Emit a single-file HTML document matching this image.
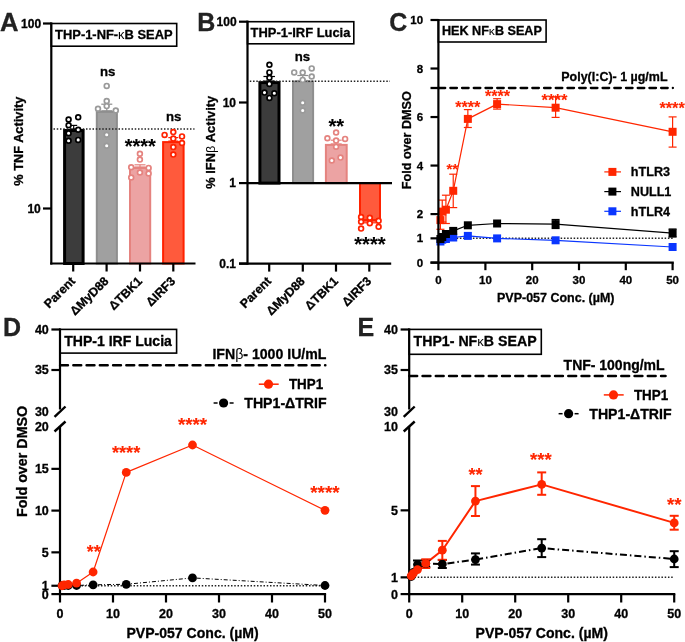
<!DOCTYPE html><html><head><meta charset="utf-8"><style>html,body{margin:0;padding:0;background:#fff;}svg{display:block;will-change:transform;}text{font-family:"Liberation Sans", sans-serif;stroke-width:0.3px;}</style></head><body>
<svg width="685" height="642" viewBox="0 0 685 642" font-family='"Liberation Sans", sans-serif'>
<rect x="0" y="0" width="685" height="642" fill="#fff"/>
<text x="-0.10" y="31.00" font-size="25.6" text-anchor="start" fill="#222" stroke="#222" font-weight="bold" >A</text>
<text x="41.10" y="27.90" font-size="12" text-anchor="end" fill="#000" stroke="#000" font-weight="bold" >100</text>
<text x="40.80" y="213.20" font-size="12" text-anchor="end" fill="#000" stroke="#000" font-weight="bold" >10</text>
<rect x="64.60" y="130.50" width="18.50" height="133.00" fill="#3c3c3c" stroke="#000" stroke-width="3.0"/>
<rect x="96.80" y="111.80" width="20.10" height="151.70" fill="#a0a0a0" stroke="#8e8e8e" stroke-width="2.0"/>
<rect x="130.00" y="168.00" width="20.20" height="95.50" fill="#eca3a3" stroke="#e5837f" stroke-width="2.0"/>
<rect x="163.10" y="142.10" width="20.50" height="121.40" fill="#ff5a3c" stroke="#ff2200" stroke-width="2.0"/>
<line x1="53.50" y1="129.00" x2="194.50" y2="129.00" stroke="#222" stroke-width="1.5" stroke-linecap="butt" stroke-dasharray="1.5 1.75"/>
<line x1="73.70" y1="125.40" x2="73.70" y2="129.00" stroke="#000" stroke-width="1.2" stroke-linecap="butt"/>
<line x1="70.20" y1="125.40" x2="77.20" y2="125.40" stroke="#000" stroke-width="1.2" stroke-linecap="butt"/>
<line x1="70.20" y1="129.00" x2="77.20" y2="129.00" stroke="#000" stroke-width="1.2" stroke-linecap="butt"/>
<line x1="106.80" y1="104.20" x2="106.80" y2="110.80" stroke="#8e8e8e" stroke-width="1.2" stroke-linecap="butt"/>
<line x1="101.30" y1="104.20" x2="112.30" y2="104.20" stroke="#8e8e8e" stroke-width="1.2" stroke-linecap="butt"/>
<line x1="101.30" y1="110.80" x2="112.30" y2="110.80" stroke="#8e8e8e" stroke-width="1.2" stroke-linecap="butt"/>
<line x1="140.00" y1="164.80" x2="140.00" y2="167.00" stroke="#e5837f" stroke-width="1.2" stroke-linecap="butt"/>
<line x1="134.50" y1="164.80" x2="145.50" y2="164.80" stroke="#e5837f" stroke-width="1.2" stroke-linecap="butt"/>
<line x1="134.50" y1="167.00" x2="145.50" y2="167.00" stroke="#e5837f" stroke-width="1.2" stroke-linecap="butt"/>
<line x1="173.30" y1="137.60" x2="173.30" y2="141.10" stroke="#ff2200" stroke-width="1.2" stroke-linecap="butt"/>
<line x1="168.30" y1="137.60" x2="178.30" y2="137.60" stroke="#ff2200" stroke-width="1.2" stroke-linecap="butt"/>
<line x1="168.30" y1="141.10" x2="178.30" y2="141.10" stroke="#ff2200" stroke-width="1.2" stroke-linecap="butt"/>
<circle cx="68.60" cy="119.50" r="2.4" fill="#fff" stroke="#000" stroke-width="1.7"/>
<circle cx="78.20" cy="117.30" r="2.4" fill="#fff" stroke="#000" stroke-width="1.7"/>
<circle cx="68.60" cy="125.30" r="2.4" fill="#fff" stroke="#000" stroke-width="1.7"/>
<circle cx="78.20" cy="129.70" r="2.4" fill="#fff" stroke="#000" stroke-width="1.7"/>
<circle cx="68.60" cy="133.20" r="2.4" fill="#fff" stroke="#000" stroke-width="1.7"/>
<circle cx="68.60" cy="140.70" r="2.4" fill="#fff" stroke="#000" stroke-width="1.7"/>
<circle cx="78.20" cy="139.90" r="2.4" fill="#fff" stroke="#000" stroke-width="1.7"/>
<circle cx="106.70" cy="85.90" r="2.4" fill="#fff" stroke="#9a9a9a" stroke-width="1.7"/>
<circle cx="106.70" cy="101.10" r="2.4" fill="#fff" stroke="#9a9a9a" stroke-width="1.7"/>
<circle cx="106.70" cy="106.10" r="2.4" fill="#fff" stroke="#9a9a9a" stroke-width="1.7"/>
<circle cx="98.00" cy="108.80" r="2.4" fill="#fff" stroke="#9a9a9a" stroke-width="1.7"/>
<circle cx="115.80" cy="110.50" r="2.4" fill="#fff" stroke="#9a9a9a" stroke-width="1.7"/>
<circle cx="106.70" cy="134.80" r="2.4" fill="#fff" stroke="#9a9a9a" stroke-width="1.7"/>
<circle cx="106.70" cy="145.80" r="2.4" fill="#fff" stroke="#9a9a9a" stroke-width="1.7"/>
<circle cx="139.90" cy="153.80" r="2.4" fill="#fff" stroke="#e5837f" stroke-width="1.7"/>
<circle cx="139.90" cy="159.60" r="2.4" fill="#fff" stroke="#e5837f" stroke-width="1.7"/>
<circle cx="131.20" cy="167.30" r="2.4" fill="#fff" stroke="#e5837f" stroke-width="1.7"/>
<circle cx="148.60" cy="167.90" r="2.4" fill="#fff" stroke="#e5837f" stroke-width="1.7"/>
<circle cx="139.90" cy="172.50" r="2.4" fill="#fff" stroke="#e5837f" stroke-width="1.7"/>
<circle cx="148.60" cy="173.50" r="2.4" fill="#fff" stroke="#e5837f" stroke-width="1.7"/>
<circle cx="131.20" cy="177.50" r="2.4" fill="#fff" stroke="#e5837f" stroke-width="1.7"/>
<circle cx="164.60" cy="134.90" r="2.4" fill="#fff" stroke="#ff2200" stroke-width="1.7"/>
<circle cx="173.30" cy="132.10" r="2.4" fill="#fff" stroke="#ff2200" stroke-width="1.7"/>
<circle cx="182.00" cy="136.40" r="2.4" fill="#fff" stroke="#ff2200" stroke-width="1.7"/>
<circle cx="173.30" cy="138.60" r="2.4" fill="#fff" stroke="#ff2200" stroke-width="1.7"/>
<circle cx="182.00" cy="143.00" r="2.4" fill="#fff" stroke="#ff2200" stroke-width="1.7"/>
<circle cx="173.30" cy="147.10" r="2.4" fill="#fff" stroke="#ff2200" stroke-width="1.7"/>
<circle cx="173.30" cy="154.60" r="2.4" fill="#fff" stroke="#ff2200" stroke-width="1.7"/>
<line x1="51.30" y1="22.40" x2="51.30" y2="264.60" stroke="#000" stroke-width="2.2" stroke-linecap="butt"/>
<line x1="43.00" y1="23.50" x2="51.30" y2="23.50" stroke="#000" stroke-width="2.2" stroke-linecap="butt"/>
<line x1="43.00" y1="208.50" x2="51.30" y2="208.50" stroke="#000" stroke-width="2.2" stroke-linecap="butt"/>
<line x1="50.20" y1="263.50" x2="195.50" y2="263.50" stroke="#000" stroke-width="2.2" stroke-linecap="butt"/>
<line x1="73.20" y1="263.50" x2="73.20" y2="271.50" stroke="#000" stroke-width="2.2" stroke-linecap="butt"/>
<line x1="106.60" y1="263.50" x2="106.60" y2="271.50" stroke="#000" stroke-width="2.2" stroke-linecap="butt"/>
<line x1="140.00" y1="263.50" x2="140.00" y2="271.50" stroke="#000" stroke-width="2.2" stroke-linecap="butt"/>
<line x1="173.30" y1="263.50" x2="173.30" y2="271.50" stroke="#000" stroke-width="2.2" stroke-linecap="butt"/>
<rect x="51.30" y="23.50" width="125.40" height="22.70" fill="none" stroke="#000" stroke-width="1.6"/>
<text x="55.10" y="38.50" font-size="12.8" text-anchor="start" fill="#000" stroke="#000" font-weight="bold" textLength="117.5" lengthAdjust="spacingAndGlyphs" >THP-1-NF-<tspan font-weight="normal" stroke-width="0">&#954;</tspan>B SEAP</text>
<text x="100.00" y="75.60" font-size="13.2" text-anchor="start" fill="#000" stroke="#000" font-weight="bold" >ns</text>
<text x="165.90" y="120.60" font-size="13.2" text-anchor="start" fill="#000" stroke="#000" font-weight="bold" >ns</text>
<text x="124.70" y="153.30" font-size="19.9" text-anchor="start" fill="#000" stroke="#000" font-weight="bold" style="stroke-width:0.1px" >****</text>
<text stroke="#000" x="0" y="0" font-size="12.8" text-anchor="middle" fill="#000" stroke="#000" font-weight="bold" transform="translate(23.20,141.20) rotate(-90)">% TNF Activity</text>
<text stroke="#000" x="0" y="0" font-size="12.3" text-anchor="end" fill="#000" stroke="#000" font-weight="bold" transform="translate(76.00,281.80) rotate(-45)">Parent</text>
<text stroke="#000" x="0" y="0" font-size="12.3" text-anchor="end" fill="#000" stroke="#000" font-weight="bold" transform="translate(109.40,281.80) rotate(-45)">&#916;MyD88</text>
<text stroke="#000" x="0" y="0" font-size="12.3" text-anchor="end" fill="#000" stroke="#000" font-weight="bold" transform="translate(142.80,281.80) rotate(-45)">&#916;TBK1</text>
<text stroke="#000" x="0" y="0" font-size="12.3" text-anchor="end" fill="#000" stroke="#000" font-weight="bold" transform="translate(176.10,281.80) rotate(-45)">&#916;IRF3</text>
<text x="197.30" y="30.80" font-size="25" text-anchor="start" fill="#222" stroke="#222" font-weight="bold" >B</text>
<text x="236.60" y="25.90" font-size="12" text-anchor="end" fill="#000" stroke="#000" font-weight="bold" >100</text>
<text x="236.00" y="106.80" font-size="12" text-anchor="end" fill="#000" stroke="#000" font-weight="bold" >10</text>
<text x="236.00" y="187.40" font-size="12" text-anchor="end" fill="#000" stroke="#000" font-weight="bold" >1</text>
<text x="236.00" y="268.00" font-size="12" text-anchor="end" fill="#000" stroke="#000" font-weight="bold" >0.1</text>
<rect x="259.90" y="82.60" width="19.10" height="100.50" fill="#3c3c3c" stroke="#000" stroke-width="3.0"/>
<rect x="293.00" y="81.50" width="20.10" height="101.60" fill="#a0a0a0" stroke="#8e8e8e" stroke-width="2.0"/>
<rect x="325.90" y="144.90" width="20.80" height="38.20" fill="#eca3a3" stroke="#e5837f" stroke-width="2.0"/>
<rect x="360.00" y="183.10" width="20.00" height="37.00" fill="#ff5a3c" stroke="#ff2200" stroke-width="2"/>
<line x1="249.80" y1="81.30" x2="390.00" y2="81.30" stroke="#222" stroke-width="1.5" stroke-linecap="butt" stroke-dasharray="1.5 1.75"/>
<line x1="269.20" y1="76.50" x2="269.20" y2="81.10" stroke="#000" stroke-width="1.2" stroke-linecap="butt"/>
<line x1="263.45" y1="76.50" x2="274.95" y2="76.50" stroke="#000" stroke-width="1.2" stroke-linecap="butt"/>
<line x1="263.45" y1="81.10" x2="274.95" y2="81.10" stroke="#000" stroke-width="1.2" stroke-linecap="butt"/>
<line x1="302.80" y1="75.50" x2="302.80" y2="80.50" stroke="#8e8e8e" stroke-width="1.2" stroke-linecap="butt"/>
<line x1="297.30" y1="75.50" x2="308.30" y2="75.50" stroke="#8e8e8e" stroke-width="1.2" stroke-linecap="butt"/>
<line x1="297.30" y1="80.50" x2="308.30" y2="80.50" stroke="#8e8e8e" stroke-width="1.2" stroke-linecap="butt"/>
<line x1="336.20" y1="140.20" x2="336.20" y2="143.90" stroke="#e5837f" stroke-width="1.2" stroke-linecap="butt"/>
<line x1="330.70" y1="140.20" x2="341.70" y2="140.20" stroke="#e5837f" stroke-width="1.2" stroke-linecap="butt"/>
<line x1="330.70" y1="143.90" x2="341.70" y2="143.90" stroke="#e5837f" stroke-width="1.2" stroke-linecap="butt"/>
<line x1="370.00" y1="221.10" x2="370.00" y2="222.80" stroke="#ff2200" stroke-width="1.2" stroke-linecap="butt"/>
<line x1="361.00" y1="221.10" x2="379.00" y2="221.10" stroke="#ff2200" stroke-width="1.2" stroke-linecap="butt"/>
<line x1="361.00" y1="222.80" x2="379.00" y2="222.80" stroke="#ff2200" stroke-width="1.2" stroke-linecap="butt"/>
<circle cx="269.40" cy="64.70" r="2.4" fill="#fff" stroke="#000" stroke-width="1.7"/>
<circle cx="269.40" cy="72.40" r="2.4" fill="#fff" stroke="#000" stroke-width="1.7"/>
<circle cx="269.40" cy="77.80" r="2.4" fill="#fff" stroke="#000" stroke-width="1.7"/>
<circle cx="269.40" cy="83.90" r="2.4" fill="#fff" stroke="#000" stroke-width="1.7"/>
<circle cx="264.50" cy="92.60" r="2.4" fill="#fff" stroke="#000" stroke-width="1.7"/>
<circle cx="274.30" cy="93.30" r="2.4" fill="#fff" stroke="#000" stroke-width="1.7"/>
<circle cx="269.40" cy="97.90" r="2.4" fill="#fff" stroke="#000" stroke-width="1.7"/>
<circle cx="294.20" cy="72.40" r="2.4" fill="#fff" stroke="#9a9a9a" stroke-width="1.7"/>
<circle cx="302.70" cy="72.60" r="2.4" fill="#fff" stroke="#9a9a9a" stroke-width="1.7"/>
<circle cx="311.70" cy="68.40" r="2.4" fill="#fff" stroke="#9a9a9a" stroke-width="1.7"/>
<circle cx="311.70" cy="76.50" r="2.4" fill="#fff" stroke="#9a9a9a" stroke-width="1.7"/>
<circle cx="302.70" cy="79.90" r="2.4" fill="#fff" stroke="#9a9a9a" stroke-width="1.7"/>
<circle cx="302.70" cy="102.70" r="2.4" fill="#fff" stroke="#9a9a9a" stroke-width="1.7"/>
<circle cx="302.70" cy="110.50" r="2.4" fill="#fff" stroke="#9a9a9a" stroke-width="1.7"/>
<circle cx="336.10" cy="132.50" r="2.4" fill="#fff" stroke="#e5837f" stroke-width="1.7"/>
<circle cx="327.40" cy="138.30" r="2.4" fill="#fff" stroke="#e5837f" stroke-width="1.7"/>
<circle cx="336.10" cy="140.60" r="2.4" fill="#fff" stroke="#e5837f" stroke-width="1.7"/>
<circle cx="345.10" cy="138.90" r="2.4" fill="#fff" stroke="#e5837f" stroke-width="1.7"/>
<circle cx="336.10" cy="146.80" r="2.4" fill="#fff" stroke="#e5837f" stroke-width="1.7"/>
<circle cx="331.80" cy="160.50" r="2.4" fill="#fff" stroke="#e5837f" stroke-width="1.7"/>
<circle cx="340.50" cy="157.60" r="2.4" fill="#fff" stroke="#e5837f" stroke-width="1.7"/>
<circle cx="361.10" cy="217.10" r="2.4" fill="#fff" stroke="#ff2200" stroke-width="1.7"/>
<circle cx="369.80" cy="217.70" r="2.4" fill="#fff" stroke="#ff2200" stroke-width="1.7"/>
<circle cx="361.10" cy="221.70" r="2.4" fill="#fff" stroke="#ff2200" stroke-width="1.7"/>
<circle cx="369.80" cy="223.30" r="2.4" fill="#fff" stroke="#ff2200" stroke-width="1.7"/>
<circle cx="378.60" cy="220.80" r="2.4" fill="#fff" stroke="#ff2200" stroke-width="1.7"/>
<circle cx="361.10" cy="228.60" r="2.4" fill="#fff" stroke="#ff2200" stroke-width="1.7"/>
<circle cx="378.60" cy="226.70" r="2.4" fill="#fff" stroke="#ff2200" stroke-width="1.7"/>
<line x1="247.50" y1="20.60" x2="247.50" y2="264.70" stroke="#000" stroke-width="2.2" stroke-linecap="butt"/>
<line x1="239.00" y1="21.70" x2="247.50" y2="21.70" stroke="#000" stroke-width="2.2" stroke-linecap="butt"/>
<line x1="239.00" y1="102.50" x2="247.50" y2="102.50" stroke="#000" stroke-width="2.2" stroke-linecap="butt"/>
<line x1="239.00" y1="183.10" x2="247.50" y2="183.10" stroke="#000" stroke-width="2.2" stroke-linecap="butt"/>
<line x1="239.00" y1="263.60" x2="247.50" y2="263.60" stroke="#000" stroke-width="2.2" stroke-linecap="butt"/>
<line x1="247.50" y1="183.10" x2="392.00" y2="183.10" stroke="#000" stroke-width="2.4" stroke-linecap="butt"/>
<line x1="239.00" y1="263.60" x2="391.20" y2="263.60" stroke="#000" stroke-width="2.2" stroke-linecap="butt"/>
<line x1="269.20" y1="263.60" x2="269.20" y2="271.60" stroke="#000" stroke-width="2.2" stroke-linecap="butt"/>
<line x1="302.80" y1="263.60" x2="302.80" y2="271.60" stroke="#000" stroke-width="2.2" stroke-linecap="butt"/>
<line x1="336.00" y1="263.60" x2="336.00" y2="271.60" stroke="#000" stroke-width="2.2" stroke-linecap="butt"/>
<line x1="369.30" y1="263.60" x2="369.30" y2="271.60" stroke="#000" stroke-width="2.2" stroke-linecap="butt"/>
<rect x="247.50" y="21.70" width="106.30" height="22.10" fill="none" stroke="#000" stroke-width="1.6"/>
<text x="250.60" y="37.20" font-size="12.8" text-anchor="start" fill="#000" stroke="#000" font-weight="bold" textLength="99.8" lengthAdjust="spacingAndGlyphs" >THP-1-IRF Lucia</text>
<text x="294.80" y="60.60" font-size="13.2" text-anchor="start" fill="#000" stroke="#000" font-weight="bold" >ns</text>
<text x="328.40" y="133.00" font-size="20" text-anchor="start" fill="#000" stroke="#000" font-weight="bold" style="stroke-width:0.1px" >**</text>
<text x="354.30" y="250.50" font-size="20.1" text-anchor="start" fill="#000" stroke="#000" font-weight="bold" style="stroke-width:0.1px" >****</text>
<text stroke="#000" x="0" y="0" font-size="12.8" text-anchor="middle" font-weight="bold" transform="translate(214.9,142.3) rotate(-90)">% IFN<tspan font-weight="normal" stroke-width="0">&#946;</tspan> Activity</text>
<text stroke="#000" x="0" y="0" font-size="12.3" text-anchor="end" fill="#000" stroke="#000" font-weight="bold" transform="translate(272.00,281.80) rotate(-45)">Parent</text>
<text stroke="#000" x="0" y="0" font-size="12.3" text-anchor="end" fill="#000" stroke="#000" font-weight="bold" transform="translate(305.60,281.80) rotate(-45)">&#916;MyD88</text>
<text stroke="#000" x="0" y="0" font-size="12.3" text-anchor="end" fill="#000" stroke="#000" font-weight="bold" transform="translate(338.80,281.80) rotate(-45)">&#916;TBK1</text>
<text stroke="#000" x="0" y="0" font-size="12.3" text-anchor="end" fill="#000" stroke="#000" font-weight="bold" transform="translate(372.10,281.80) rotate(-45)">&#916;IRF3</text>
<text x="389.20" y="30.90" font-size="25" text-anchor="start" fill="#222" stroke="#222" font-weight="bold" >C</text>
<text x="423.10" y="24.20" font-size="11.5" text-anchor="end" fill="#000" stroke="#000" font-weight="bold" >10</text>
<text x="423.10" y="72.62" font-size="11.5" text-anchor="end" fill="#000" stroke="#000" font-weight="bold" >8</text>
<text x="423.10" y="121.14" font-size="11.5" text-anchor="end" fill="#000" stroke="#000" font-weight="bold" >6</text>
<text x="423.10" y="169.66" font-size="11.5" text-anchor="end" fill="#000" stroke="#000" font-weight="bold" >4</text>
<text x="423.10" y="218.18" font-size="11.5" text-anchor="end" fill="#000" stroke="#000" font-weight="bold" >2</text>
<text x="423.10" y="242.44" font-size="11.5" text-anchor="end" fill="#000" stroke="#000" font-weight="bold" >1</text>
<text x="423.10" y="266.70" font-size="11.5" text-anchor="end" fill="#000" stroke="#000" font-weight="bold" >0</text>
<line x1="440.40" y1="238.34" x2="673.00" y2="238.34" stroke="#222" stroke-width="1.5" stroke-linecap="butt" stroke-dasharray="1.5 1.75"/>
<line x1="438.63" y1="88.00" x2="672.90" y2="88.00" stroke="#000" stroke-width="2.3" stroke-linecap="round" stroke-dasharray="6.6 5.11"/>
<text x="561.30" y="81.20" font-size="12.6" text-anchor="start" fill="#000" stroke="#000" font-weight="bold" textLength="106.2" lengthAdjust="spacingAndGlyphs" >Poly(I:C)- 1 &#181;g/mL</text>
<polyline points="440.43,241.50 442.25,239.70 445.91,239.00 453.23,237.50 467.85,235.90 497.10,238.40 555.60,240.30 672.60,247.00" fill="none" stroke="#0a36ff" stroke-width="1.2" stroke-linejoin="round"/>
<polyline points="440.43,239.00 442.25,237.00 445.91,234.00 453.23,230.90 467.85,225.30 497.10,223.50 555.60,224.10 672.60,233.10" fill="none" stroke="#000" stroke-width="1.2" stroke-linejoin="round"/>
<polyline points="440.43,220.10 442.25,211.60 445.91,209.70 453.23,190.80 467.85,118.90 497.10,104.10 555.60,107.70 672.60,131.80" fill="none" stroke="#ff2600" stroke-width="1.2" stroke-linejoin="round"/>
<line x1="440.43" y1="213.70" x2="440.43" y2="229.30" stroke="#ff2600" stroke-width="1.2" stroke-linecap="butt"/>
<line x1="436.43" y1="213.70" x2="444.43" y2="213.70" stroke="#ff2600" stroke-width="1.2" stroke-linecap="butt"/>
<line x1="436.43" y1="229.30" x2="444.43" y2="229.30" stroke="#ff2600" stroke-width="1.2" stroke-linecap="butt"/>
<line x1="442.25" y1="200.10" x2="442.25" y2="222.00" stroke="#ff2600" stroke-width="1.2" stroke-linecap="butt"/>
<line x1="438.25" y1="200.10" x2="446.25" y2="200.10" stroke="#ff2600" stroke-width="1.2" stroke-linecap="butt"/>
<line x1="438.25" y1="222.00" x2="446.25" y2="222.00" stroke="#ff2600" stroke-width="1.2" stroke-linecap="butt"/>
<line x1="445.91" y1="195.20" x2="445.91" y2="223.50" stroke="#ff2600" stroke-width="1.2" stroke-linecap="butt"/>
<line x1="441.91" y1="195.20" x2="449.91" y2="195.20" stroke="#ff2600" stroke-width="1.2" stroke-linecap="butt"/>
<line x1="441.91" y1="223.50" x2="449.91" y2="223.50" stroke="#ff2600" stroke-width="1.2" stroke-linecap="butt"/>
<line x1="453.23" y1="174.20" x2="453.23" y2="207.60" stroke="#ff2600" stroke-width="1.2" stroke-linecap="butt"/>
<line x1="449.23" y1="174.20" x2="457.23" y2="174.20" stroke="#ff2600" stroke-width="1.2" stroke-linecap="butt"/>
<line x1="449.23" y1="207.60" x2="457.23" y2="207.60" stroke="#ff2600" stroke-width="1.2" stroke-linecap="butt"/>
<line x1="467.85" y1="109.60" x2="467.85" y2="127.50" stroke="#ff2600" stroke-width="1.2" stroke-linecap="butt"/>
<line x1="463.85" y1="109.60" x2="471.85" y2="109.60" stroke="#ff2600" stroke-width="1.2" stroke-linecap="butt"/>
<line x1="463.85" y1="127.50" x2="471.85" y2="127.50" stroke="#ff2600" stroke-width="1.2" stroke-linecap="butt"/>
<line x1="497.10" y1="98.70" x2="497.10" y2="109.10" stroke="#ff2600" stroke-width="1.2" stroke-linecap="butt"/>
<line x1="493.10" y1="98.70" x2="501.10" y2="98.70" stroke="#ff2600" stroke-width="1.2" stroke-linecap="butt"/>
<line x1="493.10" y1="109.10" x2="501.10" y2="109.10" stroke="#ff2600" stroke-width="1.2" stroke-linecap="butt"/>
<line x1="555.60" y1="97.00" x2="555.60" y2="117.40" stroke="#ff2600" stroke-width="1.2" stroke-linecap="butt"/>
<line x1="551.60" y1="97.00" x2="559.60" y2="97.00" stroke="#ff2600" stroke-width="1.2" stroke-linecap="butt"/>
<line x1="551.60" y1="117.40" x2="559.60" y2="117.40" stroke="#ff2600" stroke-width="1.2" stroke-linecap="butt"/>
<line x1="672.60" y1="116.90" x2="672.60" y2="147.10" stroke="#ff2600" stroke-width="1.2" stroke-linecap="butt"/>
<line x1="668.60" y1="116.90" x2="676.60" y2="116.90" stroke="#ff2600" stroke-width="1.2" stroke-linecap="butt"/>
<line x1="668.60" y1="147.10" x2="676.60" y2="147.10" stroke="#ff2600" stroke-width="1.2" stroke-linecap="butt"/>
<line x1="555.60" y1="219.50" x2="555.60" y2="228.50" stroke="#000" stroke-width="1.2" stroke-linecap="butt"/>
<line x1="551.60" y1="219.50" x2="559.60" y2="219.50" stroke="#000" stroke-width="1.2" stroke-linecap="butt"/>
<line x1="551.60" y1="228.50" x2="559.60" y2="228.50" stroke="#000" stroke-width="1.2" stroke-linecap="butt"/>
<line x1="672.60" y1="229.00" x2="672.60" y2="237.00" stroke="#000" stroke-width="1.2" stroke-linecap="butt"/>
<line x1="668.60" y1="229.00" x2="676.60" y2="229.00" stroke="#000" stroke-width="1.2" stroke-linecap="butt"/>
<line x1="668.60" y1="237.00" x2="676.60" y2="237.00" stroke="#000" stroke-width="1.2" stroke-linecap="butt"/>
<rect x="436.43" y="237.50" width="8.00" height="8.00" fill="#0a36ff"/>
<rect x="438.25" y="235.70" width="8.00" height="8.00" fill="#0a36ff"/>
<rect x="441.91" y="235.00" width="8.00" height="8.00" fill="#0a36ff"/>
<rect x="449.23" y="233.50" width="8.00" height="8.00" fill="#0a36ff"/>
<rect x="463.85" y="231.90" width="8.00" height="8.00" fill="#0a36ff"/>
<rect x="493.10" y="234.40" width="8.00" height="8.00" fill="#0a36ff"/>
<rect x="551.60" y="236.30" width="8.00" height="8.00" fill="#0a36ff"/>
<rect x="668.60" y="243.00" width="8.00" height="8.00" fill="#0a36ff"/>
<rect x="436.43" y="235.00" width="8.00" height="8.00" fill="#000"/>
<rect x="438.25" y="233.00" width="8.00" height="8.00" fill="#000"/>
<rect x="441.91" y="230.00" width="8.00" height="8.00" fill="#000"/>
<rect x="449.23" y="226.90" width="8.00" height="8.00" fill="#000"/>
<rect x="463.85" y="221.30" width="8.00" height="8.00" fill="#000"/>
<rect x="493.10" y="219.50" width="8.00" height="8.00" fill="#000"/>
<rect x="551.60" y="220.10" width="8.00" height="8.00" fill="#000"/>
<rect x="668.60" y="229.10" width="8.00" height="8.00" fill="#000"/>
<rect x="436.43" y="216.10" width="8.00" height="8.00" fill="#ff2600"/>
<rect x="438.25" y="207.60" width="8.00" height="8.00" fill="#ff2600"/>
<rect x="441.91" y="205.70" width="8.00" height="8.00" fill="#ff2600"/>
<rect x="449.23" y="186.80" width="8.00" height="8.00" fill="#ff2600"/>
<rect x="463.85" y="114.90" width="8.00" height="8.00" fill="#ff2600"/>
<rect x="493.10" y="100.10" width="8.00" height="8.00" fill="#ff2600"/>
<rect x="551.60" y="103.70" width="8.00" height="8.00" fill="#ff2600"/>
<rect x="668.60" y="127.80" width="8.00" height="8.00" fill="#ff2600"/>
<text x="455.20" y="113.40" font-size="16.2" text-anchor="start" fill="#ff2600" stroke="#ff2600" font-weight="bold" style="stroke-width:0.1px" >****</text>
<text x="484.90" y="102.20" font-size="16.2" text-anchor="start" fill="#ff2600" stroke="#ff2600" font-weight="bold" style="stroke-width:0.1px" >****</text>
<text x="541.60" y="106.40" font-size="16.6" text-anchor="start" fill="#ff2600" stroke="#ff2600" font-weight="bold" style="stroke-width:0.1px" >****</text>
<text x="659.40" y="113.50" font-size="16.3" text-anchor="start" fill="#ff2600" stroke="#ff2600" font-weight="bold" style="stroke-width:0.1px" >****</text>
<text x="446.40" y="174.40" font-size="15.0" text-anchor="start" fill="#ff2600" stroke="#ff2600" font-weight="bold" style="stroke-width:0.1px" >**</text>
<line x1="604.30" y1="171.90" x2="621.00" y2="171.90" stroke="#ff2600" stroke-width="1.2" stroke-linecap="butt"/>
<rect x="608.40" y="167.90" width="8.00" height="8.00" fill="#ff2600"/>
<text x="630.80" y="176.20" font-size="12.6" text-anchor="start" fill="#000" stroke="#000" font-weight="bold" >hTLR3</text>
<line x1="604.30" y1="191.60" x2="621.00" y2="191.60" stroke="#000" stroke-width="1.2" stroke-linecap="butt"/>
<rect x="608.40" y="187.60" width="8.00" height="8.00" fill="#000"/>
<text x="630.80" y="195.90" font-size="12.6" text-anchor="start" fill="#000" stroke="#000" font-weight="bold" >NULL1</text>
<line x1="604.30" y1="211.30" x2="621.00" y2="211.30" stroke="#0a36ff" stroke-width="1.2" stroke-linecap="butt"/>
<rect x="608.40" y="207.30" width="8.00" height="8.00" fill="#0a36ff"/>
<text x="630.80" y="215.60" font-size="12.6" text-anchor="start" fill="#000" stroke="#000" font-weight="bold" >hTLR4</text>
<line x1="438.40" y1="19.00" x2="438.40" y2="264.00" stroke="#000" stroke-width="2.2" stroke-linecap="butt"/>
<line x1="430.50" y1="20.00" x2="438.40" y2="20.00" stroke="#000" stroke-width="2.2" stroke-linecap="butt"/>
<line x1="430.50" y1="68.52" x2="438.40" y2="68.52" stroke="#000" stroke-width="2.2" stroke-linecap="butt"/>
<line x1="430.50" y1="117.04" x2="438.40" y2="117.04" stroke="#000" stroke-width="2.2" stroke-linecap="butt"/>
<line x1="430.50" y1="165.56" x2="438.40" y2="165.56" stroke="#000" stroke-width="2.2" stroke-linecap="butt"/>
<line x1="430.50" y1="214.08" x2="438.40" y2="214.08" stroke="#000" stroke-width="2.2" stroke-linecap="butt"/>
<line x1="430.50" y1="238.34" x2="438.40" y2="238.34" stroke="#000" stroke-width="2.2" stroke-linecap="butt"/>
<line x1="430.50" y1="262.60" x2="438.40" y2="262.60" stroke="#000" stroke-width="2.2" stroke-linecap="butt"/>
<line x1="430.50" y1="262.60" x2="673.80" y2="262.60" stroke="#000" stroke-width="2.2" stroke-linecap="butt"/>
<line x1="430.50" y1="88.00" x2="438.40" y2="88.00" stroke="#000" stroke-width="2.3" stroke-linecap="butt"/>
<line x1="438.40" y1="262.60" x2="438.40" y2="270.20" stroke="#000" stroke-width="2.2" stroke-linecap="butt"/>
<text x="438.40" y="284.30" font-size="11.5" text-anchor="middle" fill="#000" stroke="#000" font-weight="bold" >0</text>
<line x1="485.40" y1="262.60" x2="485.40" y2="270.20" stroke="#000" stroke-width="2.2" stroke-linecap="butt"/>
<text x="485.40" y="284.30" font-size="11.5" text-anchor="middle" fill="#000" stroke="#000" font-weight="bold" >10</text>
<line x1="532.20" y1="262.60" x2="532.20" y2="270.20" stroke="#000" stroke-width="2.2" stroke-linecap="butt"/>
<text x="532.20" y="284.30" font-size="11.5" text-anchor="middle" fill="#000" stroke="#000" font-weight="bold" >20</text>
<line x1="579.00" y1="262.60" x2="579.00" y2="270.20" stroke="#000" stroke-width="2.2" stroke-linecap="butt"/>
<text x="579.00" y="284.30" font-size="11.5" text-anchor="middle" fill="#000" stroke="#000" font-weight="bold" >30</text>
<line x1="625.80" y1="262.60" x2="625.80" y2="270.20" stroke="#000" stroke-width="2.2" stroke-linecap="butt"/>
<text x="625.80" y="284.30" font-size="11.5" text-anchor="middle" fill="#000" stroke="#000" font-weight="bold" >40</text>
<line x1="672.60" y1="262.60" x2="672.60" y2="270.20" stroke="#000" stroke-width="2.2" stroke-linecap="butt"/>
<text x="672.60" y="284.30" font-size="11.5" text-anchor="middle" fill="#000" stroke="#000" font-weight="bold" >50</text>
<text x="497.00" y="302.30" font-size="12.7" text-anchor="start" fill="#000" stroke="#000" font-weight="bold" textLength="117.5" lengthAdjust="spacingAndGlyphs" >PVP-057 Conc. (&#181;M)</text>
<rect x="438.40" y="20.00" width="107.70" height="22.00" fill="none" stroke="#000" stroke-width="1.6"/>
<text stroke="#000" x="441.9" y="34.7" font-size="12" font-weight="bold" textLength="100" lengthAdjust="spacingAndGlyphs">HEK NF<tspan font-size="11.5" font-weight="normal" stroke-width="0">&#954;</tspan>B SEAP</text>
<text stroke="#000" x="0" y="0" font-size="12.6" text-anchor="middle" fill="#000" stroke="#000" font-weight="bold" transform="translate(410.80,140.20) rotate(-90)">Fold over DMSO</text>
<text x="3.00" y="335.50" font-size="25" text-anchor="start" fill="#222" stroke="#222" font-weight="bold" >D</text>
<text x="48.80" y="333.90" font-size="12.5" text-anchor="end" fill="#000" stroke="#000" font-weight="bold" >40</text>
<text x="48.80" y="374.40" font-size="12.5" text-anchor="end" fill="#000" stroke="#000" font-weight="bold" >35</text>
<text x="48.80" y="416.00" font-size="12.5" text-anchor="end" fill="#000" stroke="#000" font-weight="bold" >30</text>
<text x="48.80" y="431.40" font-size="12.5" text-anchor="end" fill="#000" stroke="#000" font-weight="bold" >20</text>
<text x="48.80" y="473.25" font-size="12.5" text-anchor="end" fill="#000" stroke="#000" font-weight="bold" >15</text>
<text x="48.80" y="515.00" font-size="12.5" text-anchor="end" fill="#000" stroke="#000" font-weight="bold" >10</text>
<text x="48.80" y="556.75" font-size="12.5" text-anchor="end" fill="#000" stroke="#000" font-weight="bold" >5</text>
<text x="48.80" y="590.15" font-size="12.5" text-anchor="end" fill="#000" stroke="#000" font-weight="bold" >1</text>
<text x="48.80" y="598.50" font-size="12.5" text-anchor="end" fill="#000" stroke="#000" font-weight="bold" >0</text>
<line x1="60.00" y1="328.40" x2="60.00" y2="409.50" stroke="#000" stroke-width="2.2" stroke-linecap="butt"/>
<line x1="54.50" y1="416.90" x2="65.50" y2="406.50" stroke="#000" stroke-width="2.4" stroke-linecap="butt"/>
<line x1="54.50" y1="431.50" x2="65.50" y2="421.50" stroke="#000" stroke-width="2.4" stroke-linecap="butt"/>
<line x1="60.00" y1="426.30" x2="60.00" y2="595.20" stroke="#000" stroke-width="2.2" stroke-linecap="butt"/>
<line x1="51.40" y1="329.50" x2="60.00" y2="329.50" stroke="#000" stroke-width="2.2" stroke-linecap="butt"/>
<line x1="51.40" y1="370.00" x2="60.00" y2="370.00" stroke="#000" stroke-width="2.2" stroke-linecap="butt"/>
<line x1="51.40" y1="468.85" x2="60.00" y2="468.85" stroke="#000" stroke-width="2.2" stroke-linecap="butt"/>
<line x1="51.40" y1="510.60" x2="60.00" y2="510.60" stroke="#000" stroke-width="2.2" stroke-linecap="butt"/>
<line x1="51.40" y1="552.35" x2="60.00" y2="552.35" stroke="#000" stroke-width="2.2" stroke-linecap="butt"/>
<line x1="51.40" y1="585.75" x2="60.00" y2="585.75" stroke="#000" stroke-width="2.2" stroke-linecap="butt"/>
<line x1="51.40" y1="594.10" x2="60.00" y2="594.10" stroke="#000" stroke-width="2.2" stroke-linecap="butt"/>
<line x1="58.90" y1="594.10" x2="326.10" y2="594.10" stroke="#000" stroke-width="2.2" stroke-linecap="butt"/>
<line x1="60.00" y1="594.10" x2="60.00" y2="602.50" stroke="#000" stroke-width="2.2" stroke-linecap="butt"/>
<text x="60.00" y="618.00" font-size="12.5" text-anchor="middle" fill="#000" stroke="#000" font-weight="bold" >0</text>
<line x1="113.00" y1="594.10" x2="113.00" y2="602.50" stroke="#000" stroke-width="2.2" stroke-linecap="butt"/>
<text x="113.00" y="618.00" font-size="12.5" text-anchor="middle" fill="#000" stroke="#000" font-weight="bold" >10</text>
<line x1="166.00" y1="594.10" x2="166.00" y2="602.50" stroke="#000" stroke-width="2.2" stroke-linecap="butt"/>
<text x="166.00" y="618.00" font-size="12.5" text-anchor="middle" fill="#000" stroke="#000" font-weight="bold" >20</text>
<line x1="219.00" y1="594.10" x2="219.00" y2="602.50" stroke="#000" stroke-width="2.2" stroke-linecap="butt"/>
<text x="219.00" y="618.00" font-size="12.5" text-anchor="middle" fill="#000" stroke="#000" font-weight="bold" >30</text>
<line x1="272.00" y1="594.10" x2="272.00" y2="602.50" stroke="#000" stroke-width="2.2" stroke-linecap="butt"/>
<text x="272.00" y="618.00" font-size="12.5" text-anchor="middle" fill="#000" stroke="#000" font-weight="bold" >40</text>
<line x1="325.00" y1="594.10" x2="325.00" y2="602.50" stroke="#000" stroke-width="2.2" stroke-linecap="butt"/>
<text x="325.00" y="618.00" font-size="12.5" text-anchor="middle" fill="#000" stroke="#000" font-weight="bold" >50</text>
<text x="126.40" y="637.80" font-size="14.1" text-anchor="start" fill="#000" stroke="#000" font-weight="bold" textLength="132.3" lengthAdjust="spacingAndGlyphs" >PVP-057 Conc. (&#181;M)</text>
<rect x="60.00" y="329.40" width="116.60" height="23.70" fill="none" stroke="#000" stroke-width="1.6"/>
<text stroke="#000" x="64.2" y="346.2" font-size="14" font-weight="bold" textLength="107.7" lengthAdjust="spacingAndGlyphs">THP-1 IRF Lucia</text>
<line x1="60.15" y1="365.20" x2="325.30" y2="365.20" stroke="#000" stroke-width="2.6" stroke-linecap="round" stroke-dasharray="7.75 5.5"/>
<text stroke="#000" x="212.4" y="359.2" font-size="14.2" font-weight="bold" textLength="114.1" lengthAdjust="spacingAndGlyphs">IFN<tspan font-weight="normal" stroke-width="0">&#946;</tspan>- 1000 IU/mL</text>
<line x1="62.00" y1="585.75" x2="325.00" y2="585.75" stroke="#222" stroke-width="1.5" stroke-linecap="butt" stroke-dasharray="1.5 1.75"/>
<polyline points="62.07,585.50 64.13,585.50 68.28,585.50 76.56,585.50 93.12,584.80 126.25,584.30 192.50,577.90 325.00,585.50" fill="none" stroke="#000" stroke-width="1.0" stroke-linejoin="round" stroke-dasharray="4 2 1 2"/>
<polyline points="62.07,585.75 64.13,584.92 68.28,584.50 76.56,583.20 93.12,572.00 126.25,472.40 192.50,445.00 325.00,510.30" fill="none" stroke="#ff2600" stroke-width="1.2" stroke-linejoin="round"/>
<circle cx="62.07" cy="585.50" r="4.4" fill="#000"/>
<circle cx="64.13" cy="585.50" r="4.4" fill="#000"/>
<circle cx="68.28" cy="585.50" r="4.4" fill="#000"/>
<circle cx="76.56" cy="585.50" r="4.4" fill="#000"/>
<circle cx="93.12" cy="584.80" r="4.4" fill="#000"/>
<circle cx="126.25" cy="584.30" r="4.4" fill="#000"/>
<circle cx="192.50" cy="577.90" r="4.4" fill="#000"/>
<circle cx="325.00" cy="585.50" r="4.4" fill="#000"/>
<circle cx="62.07" cy="585.75" r="4.4" fill="#ff2600"/>
<circle cx="64.13" cy="584.92" r="4.4" fill="#ff2600"/>
<circle cx="68.28" cy="584.50" r="4.4" fill="#ff2600"/>
<circle cx="76.56" cy="583.20" r="4.4" fill="#ff2600"/>
<circle cx="93.12" cy="572.00" r="4.4" fill="#ff2600"/>
<circle cx="126.25" cy="472.40" r="4.4" fill="#ff2600"/>
<circle cx="192.50" cy="445.00" r="4.4" fill="#ff2600"/>
<circle cx="325.00" cy="510.30" r="4.4" fill="#ff2600"/>
<text x="86.80" y="558.10" font-size="17.8" text-anchor="start" fill="#ff2600" stroke="#ff2600" font-weight="bold" style="stroke-width:0.1px" >**</text>
<text x="111.90" y="458.90" font-size="18.3" text-anchor="start" fill="#ff2600" stroke="#ff2600" font-weight="bold" style="stroke-width:0.1px" >****</text>
<text x="177.90" y="430.50" font-size="18.8" text-anchor="start" fill="#ff2600" stroke="#ff2600" font-weight="bold" style="stroke-width:0.1px" >****</text>
<text x="310.20" y="499.10" font-size="19.0" text-anchor="start" fill="#ff2600" stroke="#ff2600" font-weight="bold" style="stroke-width:0.1px" >****</text>
<line x1="258.80" y1="384.20" x2="278.70" y2="384.20" stroke="#ff2600" stroke-width="1.5" stroke-linecap="butt"/>
<circle cx="268.50" cy="384.20" r="4.6" fill="#ff2600"/>
<line x1="213.60" y1="403.00" x2="217.60" y2="403.00" stroke="#000" stroke-width="1.5" stroke-linecap="butt"/>
<line x1="229.60" y1="403.00" x2="233.60" y2="403.00" stroke="#000" stroke-width="1.5" stroke-linecap="butt"/>
<circle cx="223.60" cy="403.00" r="4.6" fill="#000"/>
<text x="288.90" y="389.00" font-size="13.8" text-anchor="start" fill="#000" stroke="#000" font-weight="bold" textLength="34.3" lengthAdjust="spacingAndGlyphs" >THP1</text>
<text x="244.30" y="407.80" font-size="14" text-anchor="start" fill="#000" stroke="#000" font-weight="bold" textLength="82.3" lengthAdjust="spacingAndGlyphs" >THP1-&#916;TRIF</text>
<text stroke="#000" x="0" y="0" font-size="14.3" text-anchor="middle" fill="#000" stroke="#000" font-weight="bold" transform="translate(26.60,461.40) rotate(-90)">Fold over DMSO</text>
<text x="357.60" y="335.50" font-size="25" text-anchor="start" fill="#222" stroke="#222" font-weight="bold" >E</text>
<text x="398.00" y="333.90" font-size="12.5" text-anchor="end" fill="#000" stroke="#000" font-weight="bold" >40</text>
<text x="398.00" y="374.40" font-size="12.5" text-anchor="end" fill="#000" stroke="#000" font-weight="bold" >35</text>
<text x="398.00" y="416.00" font-size="12.5" text-anchor="end" fill="#000" stroke="#000" font-weight="bold" >30</text>
<text x="398.00" y="431.40" font-size="12.5" text-anchor="end" fill="#000" stroke="#000" font-weight="bold" >10</text>
<text x="398.00" y="514.75" font-size="12.5" text-anchor="end" fill="#000" stroke="#000" font-weight="bold" >5</text>
<text x="398.00" y="581.75" font-size="12.5" text-anchor="end" fill="#000" stroke="#000" font-weight="bold" >1</text>
<text x="398.00" y="598.50" font-size="12.5" text-anchor="end" fill="#000" stroke="#000" font-weight="bold" >0</text>
<line x1="409.20" y1="328.40" x2="409.20" y2="409.50" stroke="#000" stroke-width="2.2" stroke-linecap="butt"/>
<line x1="403.70" y1="416.90" x2="414.70" y2="406.50" stroke="#000" stroke-width="2.4" stroke-linecap="butt"/>
<line x1="403.70" y1="431.50" x2="414.70" y2="421.50" stroke="#000" stroke-width="2.4" stroke-linecap="butt"/>
<line x1="409.20" y1="426.30" x2="409.20" y2="595.20" stroke="#000" stroke-width="2.2" stroke-linecap="butt"/>
<line x1="400.60" y1="329.50" x2="409.20" y2="329.50" stroke="#000" stroke-width="2.2" stroke-linecap="butt"/>
<line x1="400.60" y1="370.00" x2="409.20" y2="370.00" stroke="#000" stroke-width="2.2" stroke-linecap="butt"/>
<line x1="400.60" y1="510.35" x2="409.20" y2="510.35" stroke="#000" stroke-width="2.2" stroke-linecap="butt"/>
<line x1="400.60" y1="577.35" x2="409.20" y2="577.35" stroke="#000" stroke-width="2.2" stroke-linecap="butt"/>
<line x1="400.60" y1="594.10" x2="409.20" y2="594.10" stroke="#000" stroke-width="2.2" stroke-linecap="butt"/>
<line x1="408.10" y1="594.10" x2="675.30" y2="594.10" stroke="#000" stroke-width="2.2" stroke-linecap="butt"/>
<line x1="409.20" y1="594.10" x2="409.20" y2="602.50" stroke="#000" stroke-width="2.2" stroke-linecap="butt"/>
<text x="409.20" y="618.00" font-size="12.5" text-anchor="middle" fill="#000" stroke="#000" font-weight="bold" >0</text>
<line x1="462.20" y1="594.10" x2="462.20" y2="602.50" stroke="#000" stroke-width="2.2" stroke-linecap="butt"/>
<text x="462.20" y="618.00" font-size="12.5" text-anchor="middle" fill="#000" stroke="#000" font-weight="bold" >10</text>
<line x1="515.20" y1="594.10" x2="515.20" y2="602.50" stroke="#000" stroke-width="2.2" stroke-linecap="butt"/>
<text x="515.20" y="618.00" font-size="12.5" text-anchor="middle" fill="#000" stroke="#000" font-weight="bold" >20</text>
<line x1="568.20" y1="594.10" x2="568.20" y2="602.50" stroke="#000" stroke-width="2.2" stroke-linecap="butt"/>
<text x="568.20" y="618.00" font-size="12.5" text-anchor="middle" fill="#000" stroke="#000" font-weight="bold" >30</text>
<line x1="621.20" y1="594.10" x2="621.20" y2="602.50" stroke="#000" stroke-width="2.2" stroke-linecap="butt"/>
<text x="621.20" y="618.00" font-size="12.5" text-anchor="middle" fill="#000" stroke="#000" font-weight="bold" >40</text>
<line x1="674.20" y1="594.10" x2="674.20" y2="602.50" stroke="#000" stroke-width="2.2" stroke-linecap="butt"/>
<text x="674.20" y="618.00" font-size="12.5" text-anchor="middle" fill="#000" stroke="#000" font-weight="bold" >50</text>
<text x="475.60" y="637.80" font-size="14.1" text-anchor="start" fill="#000" stroke="#000" font-weight="bold" textLength="132.3" lengthAdjust="spacingAndGlyphs" >PVP-057 Conc. (&#181;M)</text>
<rect x="409.20" y="329.40" width="132.10" height="24.90" fill="none" stroke="#000" stroke-width="1.6"/>
<text stroke="#000" x="413.5" y="346.2" font-size="14" font-weight="bold" textLength="123.1" lengthAdjust="spacingAndGlyphs">THP1- NF<tspan font-size="13" font-weight="normal" stroke-width="0">&#954;</tspan>B SEAP</text>
<line x1="409.35" y1="376.00" x2="665.50" y2="376.00" stroke="#000" stroke-width="2.6" stroke-linecap="round" stroke-dasharray="7.75 5.5"/>
<text stroke="#000" x="563.6" y="369.6" font-size="14" font-weight="bold" textLength="101" lengthAdjust="spacingAndGlyphs">TNF- 100ng/mL</text>
<line x1="411.20" y1="577.35" x2="674.20" y2="577.35" stroke="#222" stroke-width="1.5" stroke-linecap="butt" stroke-dasharray="1.5 1.75"/>
<polyline points="411.27,576.50 413.33,572.50 417.48,564.60 425.76,563.60 442.32,564.10 475.45,559.60 541.70,548.10 674.20,559.00" fill="none" stroke="#000" stroke-width="2.0" stroke-linejoin="round" stroke-dasharray="7 3 1.5 3"/>
<polyline points="411.27,575.80 413.33,573.30 417.48,569.60 425.76,563.40 442.32,550.20 475.45,501.10 541.70,484.40 674.20,522.90" fill="none" stroke="#ff2600" stroke-width="2.0" stroke-linejoin="round"/>
<line x1="417.48" y1="560.50" x2="417.48" y2="568.50" stroke="#000" stroke-width="2.0" stroke-linecap="butt"/>
<line x1="412.98" y1="560.50" x2="421.98" y2="560.50" stroke="#000" stroke-width="2.0" stroke-linecap="butt"/>
<line x1="412.98" y1="568.50" x2="421.98" y2="568.50" stroke="#000" stroke-width="2.0" stroke-linecap="butt"/>
<line x1="425.76" y1="560.00" x2="425.76" y2="567.00" stroke="#000" stroke-width="2.0" stroke-linecap="butt"/>
<line x1="421.26" y1="560.00" x2="430.26" y2="560.00" stroke="#000" stroke-width="2.0" stroke-linecap="butt"/>
<line x1="421.26" y1="567.00" x2="430.26" y2="567.00" stroke="#000" stroke-width="2.0" stroke-linecap="butt"/>
<line x1="442.32" y1="560.00" x2="442.32" y2="568.00" stroke="#000" stroke-width="2.0" stroke-linecap="butt"/>
<line x1="437.82" y1="560.00" x2="446.82" y2="560.00" stroke="#000" stroke-width="2.0" stroke-linecap="butt"/>
<line x1="437.82" y1="568.00" x2="446.82" y2="568.00" stroke="#000" stroke-width="2.0" stroke-linecap="butt"/>
<line x1="475.45" y1="553.40" x2="475.45" y2="564.60" stroke="#000" stroke-width="2.0" stroke-linecap="butt"/>
<line x1="470.95" y1="553.40" x2="479.95" y2="553.40" stroke="#000" stroke-width="2.0" stroke-linecap="butt"/>
<line x1="470.95" y1="564.60" x2="479.95" y2="564.60" stroke="#000" stroke-width="2.0" stroke-linecap="butt"/>
<line x1="541.70" y1="539.20" x2="541.70" y2="557.10" stroke="#000" stroke-width="2.0" stroke-linecap="butt"/>
<line x1="537.20" y1="539.20" x2="546.20" y2="539.20" stroke="#000" stroke-width="2.0" stroke-linecap="butt"/>
<line x1="537.20" y1="557.10" x2="546.20" y2="557.10" stroke="#000" stroke-width="2.0" stroke-linecap="butt"/>
<line x1="674.20" y1="551.20" x2="674.20" y2="567.10" stroke="#000" stroke-width="2.0" stroke-linecap="butt"/>
<line x1="669.70" y1="551.20" x2="678.70" y2="551.20" stroke="#000" stroke-width="2.0" stroke-linecap="butt"/>
<line x1="669.70" y1="567.10" x2="678.70" y2="567.10" stroke="#000" stroke-width="2.0" stroke-linecap="butt"/>
<line x1="425.76" y1="559.30" x2="425.76" y2="568.00" stroke="#ff2600" stroke-width="2.0" stroke-linecap="butt"/>
<line x1="421.26" y1="559.30" x2="430.26" y2="559.30" stroke="#ff2600" stroke-width="2.0" stroke-linecap="butt"/>
<line x1="421.26" y1="568.00" x2="430.26" y2="568.00" stroke="#ff2600" stroke-width="2.0" stroke-linecap="butt"/>
<line x1="442.32" y1="540.90" x2="442.32" y2="559.80" stroke="#ff2600" stroke-width="2.0" stroke-linecap="butt"/>
<line x1="437.82" y1="540.90" x2="446.82" y2="540.90" stroke="#ff2600" stroke-width="2.0" stroke-linecap="butt"/>
<line x1="437.82" y1="559.80" x2="446.82" y2="559.80" stroke="#ff2600" stroke-width="2.0" stroke-linecap="butt"/>
<line x1="475.45" y1="486.10" x2="475.45" y2="516.00" stroke="#ff2600" stroke-width="2.0" stroke-linecap="butt"/>
<line x1="470.95" y1="486.10" x2="479.95" y2="486.10" stroke="#ff2600" stroke-width="2.0" stroke-linecap="butt"/>
<line x1="470.95" y1="516.00" x2="479.95" y2="516.00" stroke="#ff2600" stroke-width="2.0" stroke-linecap="butt"/>
<line x1="541.70" y1="472.40" x2="541.70" y2="494.80" stroke="#ff2600" stroke-width="2.0" stroke-linecap="butt"/>
<line x1="537.20" y1="472.40" x2="546.20" y2="472.40" stroke="#ff2600" stroke-width="2.0" stroke-linecap="butt"/>
<line x1="537.20" y1="494.80" x2="546.20" y2="494.80" stroke="#ff2600" stroke-width="2.0" stroke-linecap="butt"/>
<line x1="674.20" y1="515.80" x2="674.20" y2="529.70" stroke="#ff2600" stroke-width="2.0" stroke-linecap="butt"/>
<line x1="669.70" y1="515.80" x2="678.70" y2="515.80" stroke="#ff2600" stroke-width="2.0" stroke-linecap="butt"/>
<line x1="669.70" y1="529.70" x2="678.70" y2="529.70" stroke="#ff2600" stroke-width="2.0" stroke-linecap="butt"/>
<circle cx="411.27" cy="576.50" r="4.4" fill="#000"/>
<circle cx="413.33" cy="572.50" r="4.4" fill="#000"/>
<circle cx="417.48" cy="564.60" r="4.4" fill="#000"/>
<circle cx="425.76" cy="563.60" r="4.4" fill="#000"/>
<circle cx="442.32" cy="564.10" r="4.4" fill="#000"/>
<circle cx="475.45" cy="559.60" r="4.4" fill="#000"/>
<circle cx="541.70" cy="548.10" r="4.4" fill="#000"/>
<circle cx="674.20" cy="559.00" r="4.4" fill="#000"/>
<circle cx="411.27" cy="575.80" r="4.4" fill="#ff2600"/>
<circle cx="413.33" cy="573.30" r="4.4" fill="#ff2600"/>
<circle cx="417.48" cy="569.60" r="4.4" fill="#ff2600"/>
<circle cx="425.76" cy="563.40" r="4.4" fill="#ff2600"/>
<circle cx="442.32" cy="550.20" r="4.4" fill="#ff2600"/>
<circle cx="475.45" cy="501.10" r="4.4" fill="#ff2600"/>
<circle cx="541.70" cy="484.40" r="4.4" fill="#ff2600"/>
<circle cx="674.20" cy="522.90" r="4.4" fill="#ff2600"/>
<text x="468.50" y="481.10" font-size="18.2" text-anchor="start" fill="#ff2600" stroke="#ff2600" font-weight="bold" style="stroke-width:0.1px" >**</text>
<text x="530.10" y="465.80" font-size="18.6" text-anchor="start" fill="#ff2600" stroke="#ff2600" font-weight="bold" style="stroke-width:0.1px" >***</text>
<text x="667.00" y="511.20" font-size="18.7" text-anchor="start" fill="#ff2600" stroke="#ff2600" font-weight="bold" style="stroke-width:0.1px" >**</text>
<line x1="603.80" y1="394.90" x2="623.70" y2="394.90" stroke="#ff2600" stroke-width="1.5" stroke-linecap="butt"/>
<circle cx="613.50" cy="394.90" r="4.6" fill="#ff2600"/>
<line x1="558.60" y1="413.70" x2="562.60" y2="413.70" stroke="#000" stroke-width="1.5" stroke-linecap="butt"/>
<line x1="574.60" y1="413.70" x2="578.60" y2="413.70" stroke="#000" stroke-width="1.5" stroke-linecap="butt"/>
<circle cx="568.60" cy="413.70" r="4.6" fill="#000"/>
<text x="633.90" y="399.70" font-size="13.8" text-anchor="start" fill="#000" stroke="#000" font-weight="bold" textLength="34.3" lengthAdjust="spacingAndGlyphs" >THP1</text>
<text x="589.30" y="418.50" font-size="14" text-anchor="start" fill="#000" stroke="#000" font-weight="bold" textLength="82.3" lengthAdjust="spacingAndGlyphs" >THP1-&#916;TRIF</text>
</svg></body></html>
